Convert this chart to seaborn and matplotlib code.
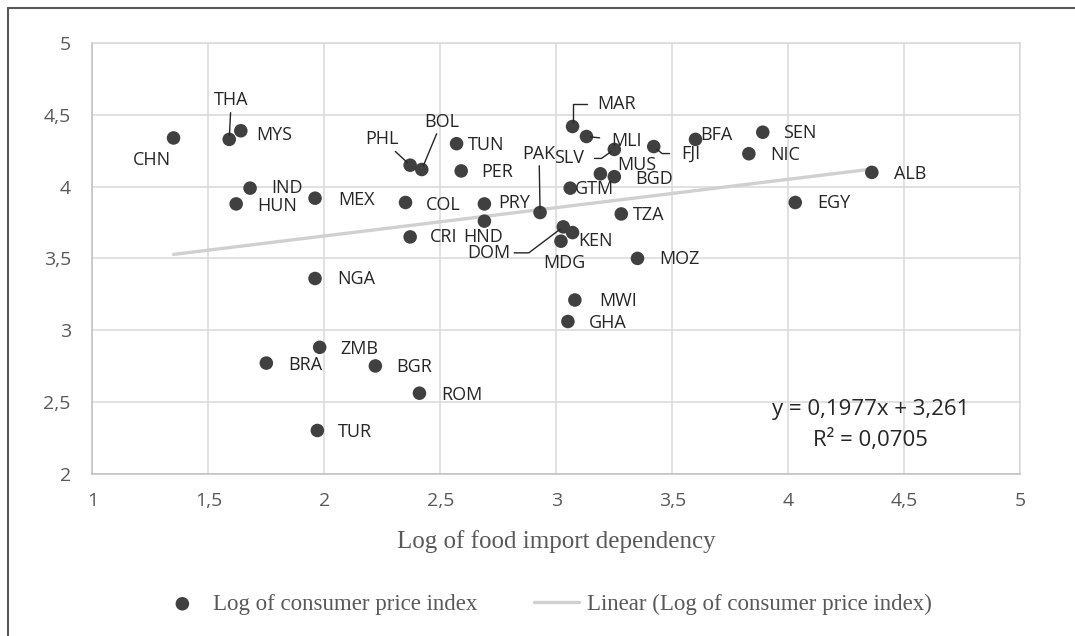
import matplotlib

matplotlib.use("Agg")
import matplotlib.pyplot as plt
from matplotlib.lines import Line2D
from matplotlib.ticker import FuncFormatter, MultipleLocator
import numpy as np
import pandas as pd
import seaborn as sns

# Country codes and values
countries = ["CHN", "THA", "MYS", "IND", "HUN", "MEX", "PHL", "BOL", "TUN", "PER",
             "COL", "PRY", "HND", "CRI", "NGA", "MAR", "MLI", "SLV", "FJI", "BFA",
             "MUS", "BGD", "GTM", "PAK", "TZA", "DOM", "KEN", "MDG", "MOZ", "MWI",
             "GHA", "SEN", "NIC", "ALB", "EGY", "ZMB", "BRA", "BGR", "ROM", "TUR"]
food_import = [1.35, 1.59, 1.64, 1.68, 1.62, 1.96, 2.37, 2.42, 2.57, 2.59,
               2.35, 2.69, 2.69, 2.37, 1.96, 3.07, 3.13, 3.25, 3.42, 3.60,
               3.19, 3.25, 3.06, 2.93, 3.28, 3.03, 3.07, 3.02, 3.35, 3.08,
               3.05, 3.89, 3.83, 4.36, 4.03, 1.98, 1.75, 2.22, 2.41, 1.97]
cpi = [4.34, 4.33, 4.39, 3.99, 3.88, 3.92, 4.15, 4.12, 4.30, 4.11,
       3.89, 3.88, 3.76, 3.65, 3.36, 4.42, 4.35, 4.26, 4.28, 4.33,
       4.09, 4.07, 3.99, 3.82, 3.81, 3.72, 3.68, 3.62, 3.50, 3.21,
       3.06, 4.38, 4.23, 4.10, 3.89, 2.88, 2.77, 2.75, 2.56, 2.30]

# Excel linear trend line
slope = 0.1977
intercept = 3.261
r_squared = 0.0705

# label placement (pixels from the dot, y up)
label_offsets = {
    "CHN": (-22, -22), "THA": (2, 39), "MYS": (33, -4), "IND": (37, 0),
    "HUN": (41, -2), "MEX": (41, -2), "PHL": (-28, 26), "BOL": (20, 48),
    "TUN": (30, -1), "PER": (36, -1), "COL": (38, -3), "PRY": (30, 1),
    "HND": (-1, -16), "CRI": (33, 0), "NGA": (41, -1), "MAR": (44, 22),
    "MLI": (40, -4), "SLV": (-45, -9), "FJI": (37, -7), "BFA": (21, 4),
    "MUS": (36, 9), "BGD": (40, -2), "GTM": (24, -1), "PAK": (-1, 59),
    "TZA": (27, -1), "DOM": (-74, -26), "KEN": (23, -8), "MDG": (3, -22),
    "MOZ": (42, -1), "MWI": (43, -1), "GHA": (40, -1), "SEN": (37, -1),
    "NIC": (36, -1), "ALB": (38, -2), "EGY": (39, -1), "ZMB": (40, -2),
    "BRA": (39, -2), "BGR": (39, -1), "ROM": (42, -2), "TUR": (38, -2),
}
# leader lines: (connection style, gap at text in points)
leaders = {
    "THA": ("arc3", 0), "BOL": ("arc3", 0), "PHL": ("arc3", 0), "PAK": ("arc3", 0),
    "MLI": ("arc3", 6),
    "MAR": ("angle,angleA=0,angleB=90,rad=0", 5),
    "SLV": ("angle,angleA=0,angleB=35,rad=0", 5),
    "FJI": ("angle,angleA=0,angleB=-40,rad=0", 6),
    "DOM": ("angle,angleA=0,angleB=37,rad=0", 0),
}

df = pd.DataFrame({"country": countries, "x": food_import, "y": cpi})
x_trend = np.array([df["x"].min(), df["x"].max()])
trend = pd.DataFrame({"x": x_trend, "y": slope * x_trend + intercept})

sns.set_style("white")
plt.rcParams["font.family"] = ["Open Sans", "DejaVu Sans"]

fig = plt.figure(figsize=(10.75, 6.36), dpi=100)
ax = fig.add_axes([0.0859, 0.2555, 0.8632, 0.6764])

grid_c = "#D9D9D9"
axis_c = "#BFBFBF"
text_c = "#595959"
dot_c = "#404040"
serif = ["Liberation Serif", "DejaVu Serif"]

sns.lineplot(data=trend, x="x", y="y", ax=ax, color="#D0D0D0", linewidth=2.4,
             zorder=2, label="Linear (Log of consumer price index)")
sns.scatterplot(data=df, x="x", y="y", ax=ax, color=dot_c, s=95, edgecolor="none",
                zorder=3, label="Log of consumer price index")

for name, px, py in zip(df["country"], df["x"], df["y"]):
    dx, dy = label_offsets[name]
    arrow = None
    if name in leaders:
        style, gap = leaders[name]
        arrow = dict(arrowstyle="-", color="#262626", lw=1.0,
                     connectionstyle=style, shrinkA=gap, shrinkB=3)
    ax.annotate(name, xy=(px, py), xytext=(dx, dy), textcoords="offset pixels",
                ha="center", va="center", fontsize=13, color="#262626",
                arrowprops=arrow, zorder=4)

ax.set_xlim(1, 5)
ax.set_ylim(2, 5)
ax.xaxis.set_major_locator(MultipleLocator(0.5))
ax.yaxis.set_major_locator(MultipleLocator(0.5))
comma = FuncFormatter(lambda v, p: f"{v:g}".replace(".", ","))
ax.xaxis.set_major_formatter(comma)
ax.yaxis.set_major_formatter(comma)
ax.grid(True, color=grid_c, linewidth=1.1)
ax.set_axisbelow(True)
for side in ["top", "right"]:
    ax.spines[side].set_color(grid_c)
    ax.spines[side].set_linewidth(1.1)
for side in ["left", "bottom"]:
    ax.spines[side].set_color(axis_c)
    ax.spines[side].set_linewidth(1.1)
ax.tick_params(axis="both", direction="out", length=4.5, width=1.0, color=axis_c,
               labelcolor=text_c, labelsize=14)
ax.tick_params(axis="y", pad=11)
ax.tick_params(axis="x", pad=9)

ax.set_xlabel("Log of food import dependency", family=serif, fontsize=18,
              color=text_c, labelpad=14)
ax.set_ylabel("")

ax.text(0.839, 0.148, f"y = {slope:g}x + {intercept:g}".replace(".", ","),
        transform=ax.transAxes, ha="center", va="center", fontsize=16, color="#262626")
ax.text(0.839, 0.078, f"R² = {r_squared:g}".replace(".", ","),
        transform=ax.transAxes, ha="center", va="center", fontsize=16, color="#262626")

handles, labels = ax.get_legend_handles_labels()
order = [1, 0]
ax.legend([handles[i] for i in order], [labels[i] for i in order],
          loc="center", bbox_to_anchor=(0.508, 0.05), bbox_transform=fig.transFigure,
          ncol=2, frameon=False, prop={"family": serif, "size": 16.5},
          labelcolor=text_c, handlelength=1.96, columnspacing=2.5, handletextpad=0.35,
          borderpad=0.2, borderaxespad=0.0)

# outer frame (left and top edges only, as in the source image)
fig.add_artist(Line2D([0.0075, 0.0075], [0, 0.988], transform=fig.transFigure,
                      color="#595959", linewidth=1.5))
fig.add_artist(Line2D([0.0075, 1.0], [0.988, 0.988], transform=fig.transFigure,
                      color="#595959", linewidth=1.5))

fig.savefig("out.png", dpi=100)
plt.close(fig)
